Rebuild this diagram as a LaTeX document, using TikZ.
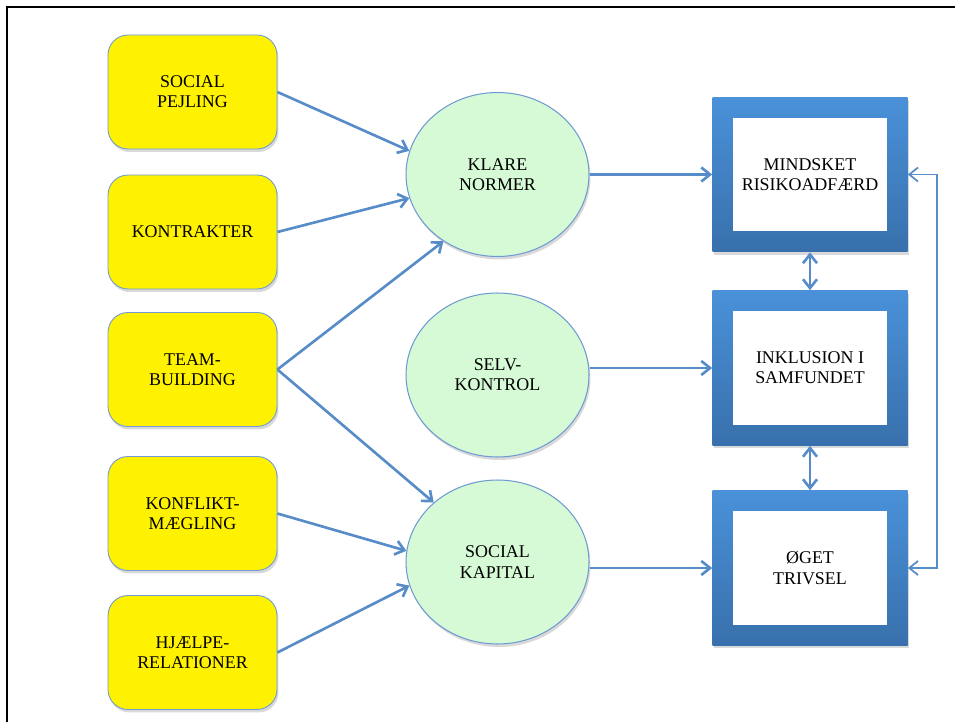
\documentclass[tikz,border=0pt]{standalone}
\usepackage{fontspec}
\setmainfont{Liberation Serif}
\usetikzlibrary{arrows.meta}
\usetikzlibrary{shapes.geometric}
\usetikzlibrary{shadows}

\definecolor{linkblue}{RGB}{88,140,200}
\definecolor{rimblue}{RGB}{110,155,210}
\definecolor{boxtop}{RGB}{74,145,217}
\definecolor{boxbot}{RGB}{56,112,172}
\definecolor{normgreen}{RGB}{213,250,213}

\begin{document}
\begin{tikzpicture}[x=0.02cm,y=-0.02cm,
  >={Straight Barb[length=5pt,width=8pt]},
  txt/.style={align=center,font=\fontsize{10.2}{11.5}\selectfont},
  shade0/.style={drop shadow={opacity=0.3,shadow xshift=0.03cm,shadow yshift=-0.06cm}},
  tool/.style={txt,rectangle,rounded corners=0.4cm,draw=rimblue,line width=0.5pt,
    fill=yellow,minimum width=3.38cm,minimum height=2.28cm,shade0},
  aim/.style={txt,ellipse,draw=rimblue,line width=0.6pt,fill=normgreen,
    minimum width=3.66cm,minimum height=3.28cm,inner sep=0pt,shade0},
  outcome/.style={rectangle,top color=boxtop,bottom color=boxbot,
    minimum width=3.9cm,minimum height=3.1cm,shade0},
  inbox/.style={txt,rectangle,fill=white,minimum width=3.08cm,minimum height=2.28cm},
  link/.style={draw=linkblue,line width=1.5pt,->},
  both/.style={draw=linkblue,line width=1.5pt,<->},
  back/.style={draw=linkblue,line width=1pt,<->}]
  \useasboundingbox (0,0) rectangle (955,722);
  \draw[line width=1.3pt] (7,722) -- (7,7) -- (955,7);

  % left column
  \node[tool] (pej) at (192.5,92) {SOCIAL\\PEJLING};
  \node[tool] (kon) at (192.5,232) {KONTRAKTER};
  \node[tool] (tb) at (192.5,369.5) {TEAM-\\BUILDING};
  \node[tool] (km) at (192.5,513.5) {KONFLIKT-\\MÆGLING};
  \node[tool] (hr) at (192.5,652.5) {HJÆLPE-\\RELATIONER};

  % middle column
  \node[aim] (kn) at (497.5,174.5) {KLARE\\NORMER};
  \node[aim] (sk) at (497.5,375) {SELV-\\KONTROL};
  \node[aim] (kap) at (497.5,562) {SOCIAL\\KAPITAL};

  % right column
  \node[outcome] (mr) at (810,174.5) {};
  \node[inbox] (mr-t) at (mr) {MINDSKET\\RISIKOADFÆRD};
  \node[outcome] (is) at (810,368) {};
  \node[inbox] (is-t) at (is) {INKLUSION I\\SAMFUNDET};
  \node[outcome] (ot) at (810,568) {};
  \node[inbox] (ot-t) at (ot) {ØGET\\TRIVSEL};

  \draw[link] (pej.east) -- (kn.165);
  \draw[link] (kon.east) -- (kn.195);
  \draw[link] (tb.east) -- (kn.231);
  \draw[link] (tb.east) -- (kap.137);
  \draw[link] (km.east) -- (kap.173);
  \draw[link] (hr.east) -- (kap.195);

  \draw[link] (kn.east) -- (mr.west);
  \draw[link] (sk.east |- is.west) -- (is.west);
  \draw[link] (kap.east |- ot.west) -- (ot.west);

  \draw[both] (mr.south) -- (is.north);
  \draw[both] (is.south) -- (ot.north);
  \draw[back] (ot.east) -- ++(29,0) |- (mr.east);
\end{tikzpicture}
\end{document}
